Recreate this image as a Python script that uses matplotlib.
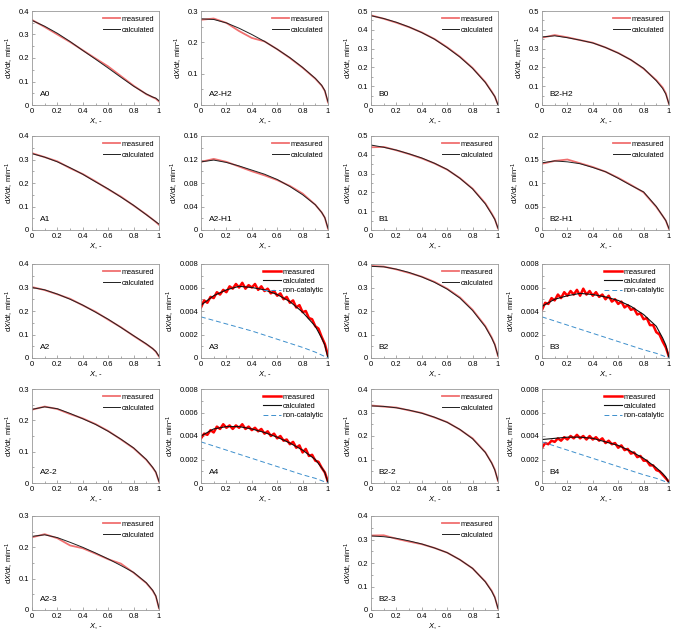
import numpy as np
import matplotlib
matplotlib.use("Agg")
import matplotlib.pyplot as plt
from matplotlib.ticker import MultipleLocator, AutoMinorLocator, FuncFormatter

plt.rcParams['font.family'] = ['Liberation Sans', 'DejaVu Sans']
plt.rcParams['mathtext.fontset'] = 'custom'
plt.rcParams['mathtext.rm'] = 'Liberation Sans'
plt.rcParams['mathtext.it'] = 'Liberation Sans:italic'

# conversion grid for the smooth curves
x_pts = [0, 0.1, 0.2, 0.3, 0.4, 0.5, 0.6, 0.7, 0.8, 0.9, 0.95, 0.975, 1.0]
# conversion grid for the noisy measured curves
x_noisy = list(np.round(np.arange(41) * 0.025, 3))
# non-catalytic line
x_nc = [0, 0.2, 0.4, 0.6, 0.8, 0.9, 1.0]

# row 1
a0_meas = [0.362, 0.332, 0.300, 0.268, 0.233, 0.198, 0.164, 0.123, 0.082, 0.046, 0.033, 0.027, 0.015]
a0_calc = [0.360, 0.335, 0.305, 0.270, 0.232, 0.195, 0.157, 0.118, 0.080, 0.047, 0.034, 0.029, 0.018]
a2h2_meas = [0.272, 0.276, 0.262, 0.236, 0.214, 0.203, 0.178, 0.150, 0.119, 0.084, 0.062, 0.045, 0.008]
a2h2_calc = [0.275, 0.273, 0.262, 0.245, 0.225, 0.203, 0.178, 0.151, 0.120, 0.085, 0.063, 0.046, 0.010]
b0_meas = [0.477, 0.459, 0.438, 0.414, 0.386, 0.351, 0.307, 0.257, 0.197, 0.122, 0.072, 0.045, 0.002]
b0_calc = [0.475, 0.460, 0.440, 0.415, 0.385, 0.350, 0.305, 0.255, 0.195, 0.120, 0.070, 0.045, 0.000]
b2h2_meas = [0.358, 0.372, 0.360, 0.345, 0.331, 0.306, 0.277, 0.240, 0.193, 0.132, 0.093, 0.062, 0.004]
b2h2_calc = [0.362, 0.368, 0.358, 0.345, 0.330, 0.306, 0.276, 0.240, 0.195, 0.129, 0.088, 0.058, 0.005]

# row 2
a1_meas = [0.327, 0.310, 0.292, 0.263, 0.238, 0.207, 0.173, 0.142, 0.104, 0.066, 0.045, 0.034, 0.022]
a1_calc = [0.325, 0.310, 0.290, 0.265, 0.237, 0.205, 0.175, 0.140, 0.105, 0.065, 0.045, 0.035, 0.025]
a2h1_meas = [0.116, 0.121, 0.116, 0.108, 0.100, 0.093, 0.085, 0.075, 0.062, 0.043, 0.030, 0.021, 0.002]
a2h1_calc = [0.116, 0.119, 0.115, 0.109, 0.102, 0.095, 0.086, 0.074, 0.060, 0.043, 0.030, 0.021, 0.003]
b1_meas = [0.440, 0.442, 0.424, 0.404, 0.381, 0.354, 0.321, 0.276, 0.220, 0.142, 0.088, 0.058, 0.008]
b1_calc = [0.452, 0.440, 0.425, 0.405, 0.383, 0.355, 0.322, 0.275, 0.218, 0.139, 0.085, 0.056, 0.010]
b2h1_meas = [0.141, 0.147, 0.150, 0.142, 0.134, 0.124, 0.111, 0.096, 0.080, 0.049, 0.030, 0.020, 0.002]
b2h1_calc = [0.143, 0.147, 0.145, 0.141, 0.133, 0.124, 0.110, 0.095, 0.081, 0.050, 0.030, 0.020, 0.003]

# row 3
a2_meas = [0.302, 0.289, 0.271, 0.252, 0.224, 0.197, 0.163, 0.131, 0.094, 0.059, 0.040, 0.027, 0.006]
a2_calc = [0.300, 0.290, 0.272, 0.250, 0.225, 0.195, 0.165, 0.130, 0.095, 0.060, 0.040, 0.028, 0.008]
a3_calc = [0.0045, 0.0053, 0.0058, 0.0061, 0.0060, 0.0058, 0.0054, 0.0048, 0.0039, 0.0027, 0.0017, 0.0011, 0.0000]
a3_nc = [0.0035, 0.0029, 0.0023, 0.0016, 0.0009, 0.0005, 0.0000]
a3_meas = [0.0043, 0.0049, 0.0047, 0.0052, 0.0051, 0.0056, 0.0054, 0.0058, 0.0056, 0.0061,
           0.0059, 0.0063, 0.0060, 0.0064, 0.0059, 0.0062, 0.0060, 0.0063, 0.0058, 0.0061,
           0.0057, 0.0059, 0.0055, 0.0057, 0.0053, 0.0055, 0.0050, 0.0052, 0.0047, 0.0049,
           0.0043, 0.0045, 0.0039, 0.0040, 0.0034, 0.0033, 0.0027, 0.0025, 0.0018, 0.0012, 0.0002]
b2_meas = [0.392, 0.389, 0.377, 0.362, 0.346, 0.324, 0.295, 0.258, 0.205, 0.136, 0.088, 0.058, 0.008]
b2_calc = [0.390, 0.388, 0.378, 0.364, 0.345, 0.322, 0.293, 0.255, 0.202, 0.133, 0.085, 0.056, 0.010]
b3_calc = [0.0044, 0.0050, 0.0053, 0.0055, 0.0054, 0.0052, 0.0049, 0.0044, 0.0037, 0.0027, 0.0017, 0.0011, 0.0000]
b3_nc = [0.0035, 0.0028, 0.0021, 0.0014, 0.0007, 0.0004, 0.0000]
b3_meas = [0.0041, 0.0047, 0.0046, 0.0051, 0.0049, 0.0054, 0.0051, 0.0056, 0.0053, 0.0057,
           0.0054, 0.0058, 0.0053, 0.0059, 0.0054, 0.0057, 0.0053, 0.0056, 0.0052, 0.0054,
           0.0050, 0.0053, 0.0048, 0.0050, 0.0046, 0.0048, 0.0043, 0.0045, 0.0041, 0.0042,
           0.0037, 0.0038, 0.0033, 0.0034, 0.0028, 0.0028, 0.0022, 0.0020, 0.0014, 0.0009, 0.0001]

# row 4
a22_meas = [0.234, 0.244, 0.236, 0.220, 0.206, 0.188, 0.166, 0.139, 0.111, 0.074, 0.049, 0.034, 0.004]
a22_calc = [0.235, 0.243, 0.237, 0.222, 0.205, 0.187, 0.165, 0.140, 0.112, 0.075, 0.050, 0.035, 0.005]
a4_calc = [0.0040, 0.0046, 0.0048, 0.0048, 0.0046, 0.0043, 0.0039, 0.0034, 0.0028, 0.0020, 0.0013, 0.0009, 0.0000]
a4_nc = [0.0035, 0.0028, 0.0021, 0.0014, 0.0007, 0.0004, 0.0000]
a4_meas = [0.0038, 0.0042, 0.0041, 0.0045, 0.0043, 0.0048, 0.0046, 0.0050, 0.0047, 0.0049,
           0.0046, 0.0049, 0.0047, 0.0050, 0.0046, 0.0048, 0.0045, 0.0047, 0.0044, 0.0046,
           0.0042, 0.0044, 0.0040, 0.0042, 0.0038, 0.0040, 0.0036, 0.0037, 0.0033, 0.0035,
           0.0030, 0.0032, 0.0026, 0.0029, 0.0023, 0.0024, 0.0019, 0.0018, 0.0013, 0.0009, 0.0001]
b22_meas = [0.330, 0.325, 0.321, 0.309, 0.298, 0.279, 0.259, 0.227, 0.190, 0.131, 0.086, 0.057, 0.008]
b22_calc = [0.328, 0.326, 0.320, 0.310, 0.297, 0.280, 0.258, 0.228, 0.188, 0.130, 0.085, 0.055, 0.010]
b4_calc = [0.0037, 0.0038, 0.0039, 0.0039, 0.0038, 0.0035, 0.0032, 0.0027, 0.0021, 0.0013, 0.0008, 0.0005, 0.0000]
b4_nc = [0.0035, 0.0028, 0.0021, 0.0014, 0.0007, 0.0004, 0.0000]
b4_meas = [0.0030, 0.0034, 0.0033, 0.0036, 0.0035, 0.0038, 0.0036, 0.0039, 0.0037, 0.0040,
           0.0038, 0.0041, 0.0038, 0.0040, 0.0037, 0.0040, 0.0037, 0.0039, 0.0036, 0.0038,
           0.0034, 0.0036, 0.0033, 0.0034, 0.0030, 0.0032, 0.0028, 0.0029, 0.0025, 0.0026,
           0.0022, 0.0023, 0.0019, 0.0019, 0.0015, 0.0015, 0.0011, 0.0010, 0.0007, 0.0004, 0.0001]

# row 5
a23_meas = [0.232, 0.242, 0.229, 0.206, 0.197, 0.180, 0.162, 0.148, 0.119, 0.086, 0.062, 0.044, 0.005]
a23_calc = [0.235, 0.240, 0.231, 0.216, 0.200, 0.182, 0.163, 0.142, 0.120, 0.087, 0.063, 0.045, 0.006]
b23_meas = [0.317, 0.318, 0.303, 0.291, 0.280, 0.264, 0.244, 0.214, 0.177, 0.121, 0.082, 0.055, 0.006]
b23_calc = [0.315, 0.312, 0.305, 0.294, 0.281, 0.264, 0.244, 0.214, 0.177, 0.120, 0.080, 0.053, 0.007]

# (name, row, col, ymax, ystep, measured, calculated, non-catalytic)
panels = [
    ("A0", 0, 0, 0.4, 0.1, a0_meas, a0_calc, None),
    ("A2-H2", 0, 1, 0.3, 0.1, a2h2_meas, a2h2_calc, None),
    ("B0", 0, 2, 0.5, 0.1, b0_meas, b0_calc, None),
    ("B2-H2", 0, 3, 0.5, 0.1, b2h2_meas, b2h2_calc, None),
    ("A1", 1, 0, 0.4, 0.1, a1_meas, a1_calc, None),
    ("A2-H1", 1, 1, 0.16, 0.04, a2h1_meas, a2h1_calc, None),
    ("B1", 1, 2, 0.5, 0.1, b1_meas, b1_calc, None),
    ("B2-H1", 1, 3, 0.2, 0.05, b2h1_meas, b2h1_calc, None),
    ("A2", 2, 0, 0.4, 0.1, a2_meas, a2_calc, None),
    ("A3", 2, 1, 0.008, 0.002, a3_meas, a3_calc, a3_nc),
    ("B2", 2, 2, 0.4, 0.1, b2_meas, b2_calc, None),
    ("B3", 2, 3, 0.008, 0.002, b3_meas, b3_calc, b3_nc),
    ("A2-2", 3, 0, 0.3, 0.1, a22_meas, a22_calc, None),
    ("A4", 3, 1, 0.008, 0.002, a4_meas, a4_calc, a4_nc),
    ("B2-2", 3, 2, 0.4, 0.1, b22_meas, b22_calc, None),
    ("B4", 3, 3, 0.008, 0.002, b4_meas, b4_calc, b4_nc),
    ("A2-3", 4, 0, 0.3, 0.1, a23_meas, a23_calc, None),
    ("B2-3", 4, 2, 0.4, 0.1, b23_meas, b23_calc, None),
]

W, H = 678, 639
col_left = [32, 201, 371, 542]
row_top = [11, 136, 264, 389, 516]
ax_w, ax_h = 127, 94

fig = plt.figure(figsize=(W / 100, H / 100), dpi=100)
fs = 5.5
fmt = FuncFormatter(lambda v, p: "%g" % round(v, 4))

for name, r, c, ymax, ystep, meas, calc, nc in panels:
    ax = fig.add_axes([col_left[c] / W, 1 - (row_top[r] + ax_h) / H, ax_w / W, ax_h / H])
    if nc is None:
        ax.plot(x_pts, meas, color="#f07070", lw=1.3, label="measured")
        ax.plot(x_pts, calc, color="#202020", lw=0.7, label="calculated")
    else:
        ax.plot(x_noisy, meas, color="#ff0000", lw=1.8, label="measured")
        ax.plot(x_pts, calc, color="#101010", lw=0.8, label="calculated")
        ax.plot(x_nc, nc, color="#3d8fcc", lw=0.7, ls=(0, (5, 3)), label="non-catalytic")
    ax.set_xlim(0, 1)
    ax.set_ylim(0, ymax)
    ax.xaxis.set_major_locator(MultipleLocator(0.2))
    ax.yaxis.set_major_locator(MultipleLocator(ystep))
    ax.xaxis.set_minor_locator(AutoMinorLocator(2))
    ax.yaxis.set_minor_locator(AutoMinorLocator(2))
    ax.xaxis.set_major_formatter(fmt)
    ax.yaxis.set_major_formatter(fmt)
    ax.tick_params(which="both", direction="in", labelsize=fs, color="#888888", width=0.5, pad=2)
    ax.tick_params(which="major", length=2.5)
    ax.tick_params(which="minor", length=1.5)
    for s in ax.spines.values():
        s.set_color("#999999")
        s.set_linewidth(0.6)
    ax.set_xlabel(r"$X$, -", fontsize=fs, labelpad=1)
    ax.set_ylabel(r"d$X$/d$t$, min$^{-1}$", fontsize=fs, labelpad=2)
    ax.text(0.06, 0.1, name, transform=ax.transAxes, fontsize=fs + 0.5)
    ax.legend(loc="upper right", fontsize=fs - 0.2, frameon=False, handlelength=2.4,
              handletextpad=0.2, borderaxespad=0.2, labelspacing=0.55 if nc is None else 0.3)

fig.savefig("out.png", dpi=100)
